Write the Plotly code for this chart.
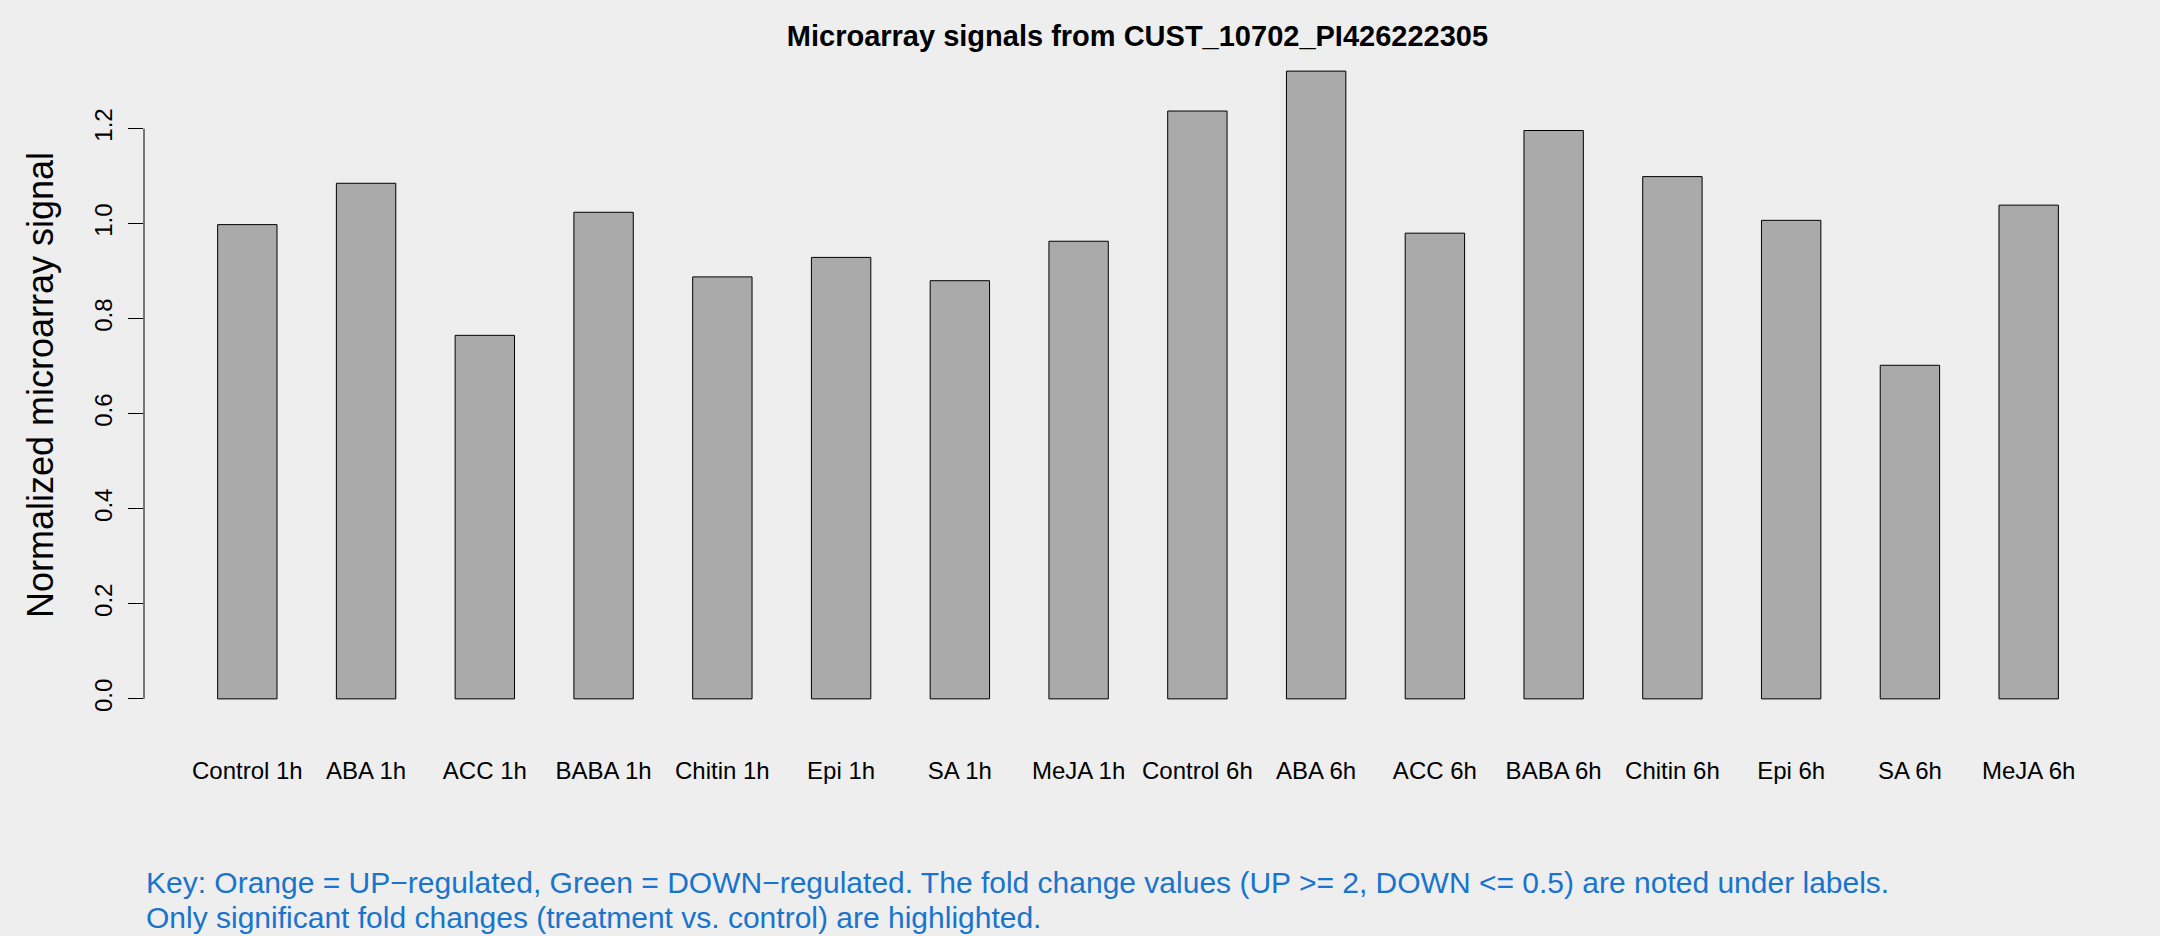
import plotly.graph_objects as go

categories = ["Control 1h", "ABA 1h", "ACC 1h", "BABA 1h", "Chitin 1h", "Epi 1h", "SA 1h", "MeJA 1h",
              "Control 6h", "ABA 6h", "ACC 6h", "BABA 6h", "Chitin 6h", "Epi 6h", "SA 6h", "MeJA 6h"]
signal = [0.998, 1.085, 0.765, 1.024, 0.888, 0.929, 0.880, 0.963,
          1.237, 1.321, 0.980, 1.196, 1.099, 1.007, 0.702, 1.039]
ytick_vals = [0.0, 0.2, 0.4, 0.6, 0.8, 1.0, 1.2]
ytick_text = ["0.0", "0.2", "0.4", "0.6", "0.8", "1.0", "1.2"]

title_text = "Microarray signals from CUST_10702_PI426222305"
ylabel = "Normalized microarray signal"
key_line1 = "Key: Orange = UP\u2212regulated, Green = DOWN\u2212regulated. The fold change values (UP >= 2, DOWN <= 0.5) are noted under labels."
key_line2 = "Only significant fold changes (treatment vs. control) are highlighted."

FONT = "Liberation Sans, Arial, Helvetica, sans-serif"
BG = "#EEEEEE"

n = len(categories)
ymax = max(signal)
yr = [-0.04 * ymax, 1.04 * ymax]
pad = 0.87  # R barplot 4% extension in category units

fig = go.Figure()
fig.add_trace(go.Bar(
    x=categories, y=signal, width=0.5,
    marker=dict(color="#AAAAAA", line=dict(color="black", width=1)),
    hoverinfo="x+y",
))

fig.update_layout(
    width=2160, height=936,
    paper_bgcolor=BG, plot_bgcolor=BG,
    margin=dict(l=144, r=28, t=46, b=212),
    showlegend=False,
    font=dict(family=FONT, color="black", size=24),
    title=dict(text="<b>" + title_text + "</b>", x=0.5266, xanchor="center",
               y=1 - 36 / 936, yanchor="middle", font=dict(size=29, family=FONT)),
    xaxis=dict(type="category", range=[-pad, n - 1 + pad], showgrid=False, zeroline=False,
               showline=False, ticks="", tickfont=dict(size=24), ticklabelstandoff=30),
    yaxis=dict(range=yr, showgrid=False, zeroline=False, showline=False,
               tickvals=ytick_vals, ticktext=ytick_text, ticks="outside", ticklen=15,
               tickcolor="black", tickwidth=1, tickangle=-90, tickfont=dict(size=24),
               ticklabelstandoff=6),
)

# y axis line spanning the tick range only (R style)
fig.add_shape(type="line", xref="paper", yref="y", x0=0, x1=0,
              y0=ytick_vals[0], y1=ytick_vals[-1], line=dict(color="black", width=1))

fig.add_annotation(text=ylabel, xref="paper", yref="paper", x=-0.0523, y=0.5,
                   xanchor="center", yanchor="middle", textangle=-90, showarrow=False,
                   font=dict(size=36, family=FONT, color="black"))

fig.add_annotation(text=key_line1, xref="paper", yref="paper", x=0, y=-0.2332,
                   xanchor="left", yanchor="middle", showarrow=False,
                   font=dict(size=30, family=FONT, color="#1874CD"))
fig.add_annotation(text=key_line2, xref="paper", yref="paper", x=0, y=-0.2848,
                   xanchor="left", yanchor="middle", showarrow=False,
                   font=dict(size=30, family=FONT, color="#1874CD"))

fig.write_html("out.html", config={"displayModeBar": False},
               post_script="document.body.style.margin='0';document.body.style.background='%s';" % BG)
